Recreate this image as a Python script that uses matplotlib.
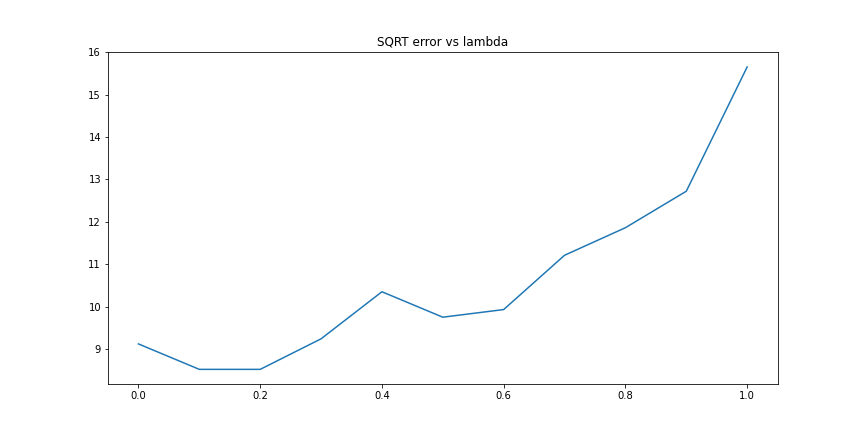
import matplotlib
matplotlib.use("Agg")
import matplotlib.pyplot as plt

lambdas = [0.0, 0.1, 0.2, 0.3, 0.4, 0.5, 0.6, 0.7, 0.8, 0.9, 1.0]
sqrt_error = [9.12, 8.52, 8.52, 9.24, 10.35, 9.75, 9.93, 11.21, 11.86, 12.72, 15.65]

plt.figure(figsize=(12, 6), dpi=72)
plt.plot(lambdas, sqrt_error)
plt.title('SQRT error vs lambda')
plt.savefig("out.png", dpi=72)
